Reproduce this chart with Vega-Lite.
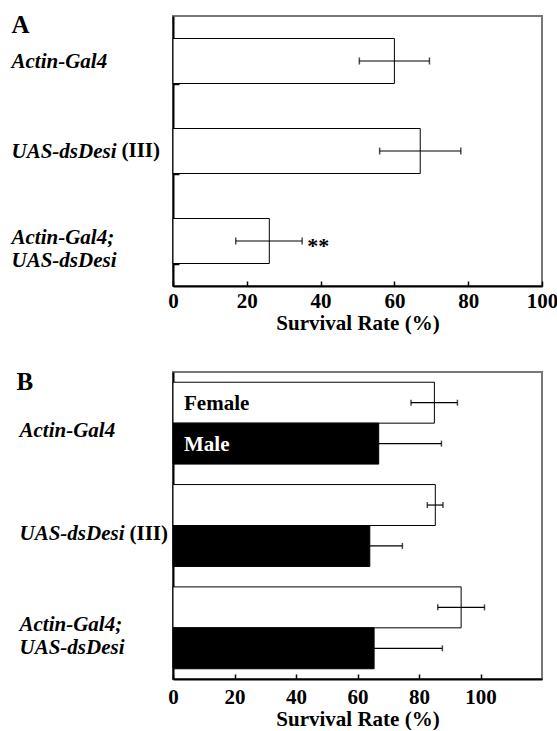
{
  "$schema": "https://vega.github.io/schema/vega-lite/v6.json",
  "padding": {"left": 10, "top": 4, "right": 4, "bottom": 0},
  "spacing": 33,
  "config": {
    "font": "Liberation Serif",
    "view": {"stroke": "#777", "strokeWidth": 2},
    "axis": {
      "labelFont": "Liberation Serif",
      "titleFont": "Liberation Serif",
      "labelColor": "black",
      "titleColor": "black",
      "domainColor": "black",
      "tickColor": "black",
      "grid": false,
      "labelFontWeight": "bold",
      "titleFontWeight": "bold",
      "labelLimit": 400
    }
  },
  "vconcat": [
    {
      "width": 369,
      "height": 270,
      "data": {
        "values": [
          {"genotype": "Actin-Gal4", "rate": 60, "lo": 50.5, "hi": 69.5, "sig": ""},
          {"genotype": "UAS-dsDesi (III)", "rate": 67, "lo": 56, "hi": 78, "sig": ""},
          {"genotype": "Actin-Gal4; UAS-dsDesi", "rate": 26.1, "lo": 17, "hi": 35, "sig": "**"}
        ]
      },
      "resolve": {"axis": {"y": "independent"}},
      "layer": [
        {
          "mark": {"type": "bar", "fill": "white", "stroke": "black", "strokeWidth": 1},
          "encoding": {
            "y": {
              "field": "genotype", "type": "nominal", "sort": null,
              "scale": {"paddingInner": 0.5, "paddingOuter": 0.25},
              "axis": {
                "orient": "left",
                "title": "A", "titleAngle": 0, "titleAlign": "left", "titleBaseline": "alphabetic",
                "titleX": -162, "titleY": 16, "titleFontSize": 25,
                "labelExpr": "!isValid(datum.value) ? '' : datum.value == 'Actin-Gal4; UAS-dsDesi' ? ['Actin-Gal4;', 'UAS-dsDesi'] : replace(datum.value, ' (III)', '')",
                "labelAlign": "left", "labelFontStyle": "italic", "labelFontSize": 21,
                "labelPadding": 168, "labelLineHeight": 23, "labelBaseline": "middle",
                "labelOffset": {"condition": {"test": "datum.value == 'Actin-Gal4; UAS-dsDesi'", "value": -4}, "value": 0},
                "tickBand": "extent", "tickSize": -6, "tickWidth": 1.5, "domainWidth": 2
              }
            },
            "x": {
              "field": "rate", "type": "quantitative", "title": "Survival Rate (%)",
              "scale": {"domain": [0, 100], "nice": false},
              "axis": {
                "values": [0, 20, 40, 60, 80, 100], "tickSize": -5, "tickWidth": 1.5,
                "labelFontSize": 21, "labelPadding": 9, "labelFlush": false,
                "titleFontSize": 21, "titleY": 43.5, "titleBaseline": "alphabetic", "domainWidth": 2
              }
            }
          }
        },
        {
          "mark": {"type": "rule", "color": "black", "strokeWidth": 1.2},
          "encoding": {
            "y": {
              "field": "genotype", "type": "nominal", "sort": null,
              "axis": {
                "orient": "left", "title": null, "domain": false, "ticks": false,
                "labelExpr": "isValid(datum.value) && indexof(datum.value, '(III)') >= 0 ? '(III)' : ''",
                "labelAlign": "left", "labelPadding": 52, "labelFontSize": 21,
                "labelFontStyle": "normal", "labelBaseline": "middle"
              }
            },
            "x": {"field": "lo", "type": "quantitative", "title": "Survival Rate (%)"},
            "x2": {"field": "hi"}
          }
        },
        {
          "mark": {"type": "tick", "color": "black", "thickness": 1.5, "size": 7},
          "encoding": {
            "y": {"field": "genotype", "type": "nominal", "sort": null, "axis": null},
            "x": {"field": "lo", "type": "quantitative", "title": "Survival Rate (%)"}
          }
        },
        {
          "mark": {"type": "tick", "color": "black", "thickness": 1.5, "size": 7},
          "encoding": {
            "y": {"field": "genotype", "type": "nominal", "sort": null, "axis": null},
            "x": {"field": "hi", "type": "quantitative", "title": "Survival Rate (%)"}
          }
        },
        {
          "mark": {"type": "text", "align": "left", "baseline": "alphabetic", "dx": 5, "dy": 12, "fontSize": 22, "fontWeight": "bold", "color": "black"},
          "encoding": {
            "y": {"field": "genotype", "type": "nominal", "sort": null, "axis": null},
            "x": {"field": "hi", "type": "quantitative", "title": "Survival Rate (%)"},
            "text": {"field": "sig"}
          }
        }
      ]
    },
    {
      "width": 369,
      "height": 307,
      "data": {
        "values": [
          {"genotype": "Actin-Gal4", "sex": "Female", "rate": 85, "lo": 77.4, "hi": 92.5},
          {"genotype": "Actin-Gal4", "sex": "Male", "rate": 66.9, "lo": 46.5, "hi": 87.3},
          {"genotype": "UAS-dsDesi (III)", "sex": "Female", "rate": 85.3, "lo": 82.7, "hi": 87.8},
          {"genotype": "UAS-dsDesi (III)", "sex": "Male", "rate": 64, "lo": 53.4, "hi": 74.6},
          {"genotype": "Actin-Gal4; UAS-dsDesi", "sex": "Female", "rate": 93.7, "lo": 86.1, "hi": 101.3},
          {"genotype": "Actin-Gal4; UAS-dsDesi", "sex": "Male", "rate": 65.4, "lo": 43.2, "hi": 87.6}
        ]
      },
      "resolve": {"axis": {"y": "independent"}},
      "layer": [
        {
          "mark": {"type": "bar", "stroke": "black", "strokeWidth": 1},
          "encoding": {
            "y": {
              "field": "genotype", "type": "nominal", "sort": null,
              "scale": {"paddingInner": 0.2, "paddingOuter": 0.1},
              "axis": {
                "orient": "left",
                "title": "B", "titleAngle": 0, "titleAlign": "left", "titleBaseline": "alphabetic",
                "titleX": -157, "titleY": 17, "titleFontSize": 25,
                "labelExpr": "!isValid(datum.value) ? '' : datum.value == 'Actin-Gal4; UAS-dsDesi' ? ['Actin-Gal4;', 'UAS-dsDesi'] : replace(datum.value, ' (III)', '')",
                "labelAlign": "left", "labelFontStyle": "italic", "labelFontSize": 21,
                "labelPadding": 154, "labelLineHeight": 23, "labelBaseline": "middle",
                "labelOffset": {"condition": {"test": "datum.value == 'Actin-Gal4; UAS-dsDesi'", "value": -3}, "value": 8},
                "ticks": false, "domainWidth": 2
              }
            },
            "yOffset": {"field": "sex", "type": "nominal", "sort": ["Female", "Male"], "scale": {"paddingInner": 0, "paddingOuter": 0}},
            "x": {
              "field": "rate", "type": "quantitative", "title": "Survival Rate (%)",
              "scale": {"domain": [0, 120], "nice": false},
              "axis": {
                "values": [0, 20, 40, 60, 80, 100], "tickSize": -5, "tickWidth": 1.5,
                "labelFontSize": 21, "labelPadding": 12, "labelFlush": false,
                "titleFontSize": 21, "titleY": 46, "titleBaseline": "alphabetic", "domainWidth": 2
              }
            },
            "fill": {"field": "sex", "type": "nominal", "scale": {"domain": ["Female", "Male"], "range": ["white", "black"]}, "legend": null}
          }
        },
        {
          "mark": {"type": "rule", "color": "black", "strokeWidth": 1.2},
          "encoding": {
            "y": {
              "field": "genotype", "type": "nominal", "sort": null,
              "axis": {
                "orient": "left", "title": null, "domain": false, "ticks": false,
                "labelExpr": "isValid(datum.value) && indexof(datum.value, '(III)') >= 0 ? '(III)' : ''",
                "labelAlign": "left", "labelPadding": 44, "labelFontSize": 21,
                "labelFontStyle": "normal", "labelBaseline": "middle", "labelOffset": 8
              }
            },
            "yOffset": {"field": "sex", "type": "nominal", "sort": ["Female", "Male"]},
            "x": {"field": "lo", "type": "quantitative", "title": "Survival Rate (%)"},
            "x2": {"field": "hi"}
          }
        },
        {
          "mark": {"type": "tick", "color": "black", "thickness": 1.5, "size": 6},
          "encoding": {
            "y": {"field": "genotype", "type": "nominal", "sort": null, "axis": null},
            "yOffset": {"field": "sex", "type": "nominal", "sort": ["Female", "Male"]},
            "x": {"field": "lo", "type": "quantitative", "title": "Survival Rate (%)"}
          }
        },
        {
          "mark": {"type": "tick", "color": "black", "thickness": 1.5, "size": 6},
          "encoding": {
            "y": {"field": "genotype", "type": "nominal", "sort": null, "axis": null},
            "yOffset": {"field": "sex", "type": "nominal", "sort": ["Female", "Male"]},
            "x": {"field": "hi", "type": "quantitative", "title": "Survival Rate (%)"}
          }
        },
        {
          "transform": [{"filter": "datum.genotype == 'Actin-Gal4'"}],
          "mark": {"type": "text", "align": "left", "baseline": "alphabetic", "dx": 11, "dy": 7, "fontSize": 21, "fontWeight": "bold"},
          "encoding": {
            "y": {"field": "genotype", "type": "nominal", "sort": null, "axis": null},
            "yOffset": {"field": "sex", "type": "nominal", "sort": ["Female", "Male"]},
            "x": {"datum": 0},
            "text": {"field": "sex"},
            "color": {"condition": {"test": "datum.sex == 'Male'", "value": "white"}, "value": "black"}
          }
        }
      ]
    }
  ]
}
